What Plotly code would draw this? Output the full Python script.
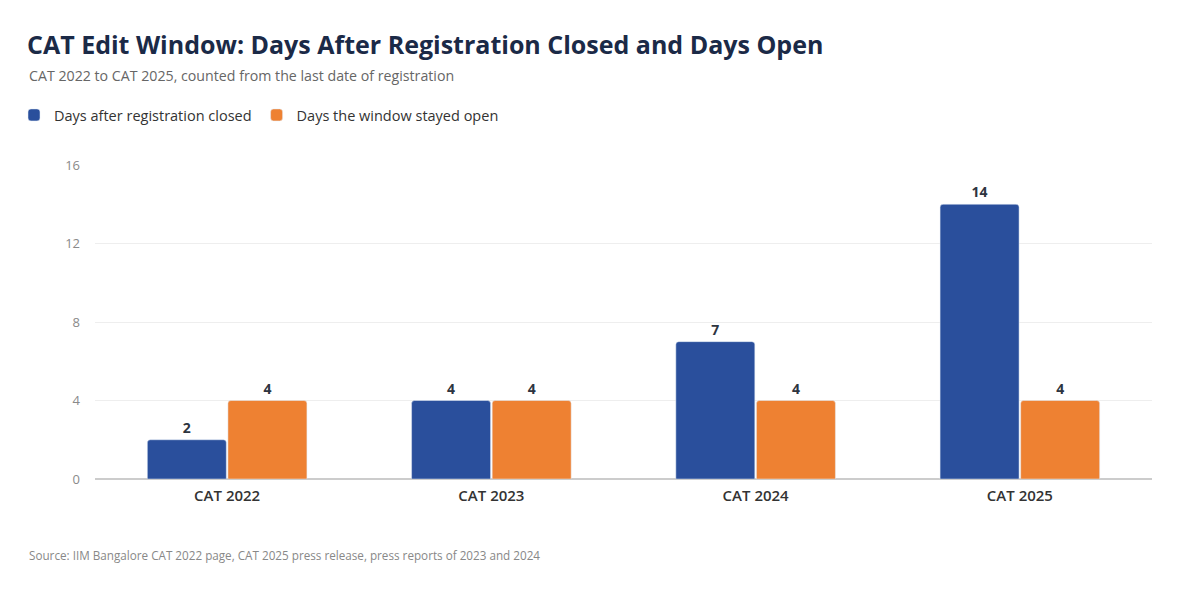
import plotly.graph_objects as go

# chart data
editions = ["CAT 2022", "CAT 2023", "CAT 2024", "CAT 2025"]
days_after_close = [2, 4, 7, 14]
days_open = [4, 4, 4, 4]
y_ticks = [0, 4, 8, 12, 16]

BLUE = "#2a4f9c"
ORANGE = "#ee8132"
FONT = "Open Sans"

# page body has an 8px margin, so positions are shifted back by that much
OFF = 8
W, H = 1200, 600
L, R, T, B = 95 - OFF, 48 + OFF, 165 - OFF, 121 + OFF
PH = H - T - B
PW = W - L - R

fig = go.Figure()
fig.add_trace(go.Bar(
    x=editions, y=days_after_close, name="Days after registration closed",
    marker=dict(color=BLUE, cornerradius=3),
    text=days_after_close, textposition="outside", cliponaxis=False,
    textfont=dict(family=FONT, size=14, color="#2d3440", weight="bold"),
))
fig.add_trace(go.Bar(
    x=editions, y=days_open, name="Days the window stayed open",
    marker=dict(color=ORANGE, cornerradius=3),
    text=days_open, textposition="outside", cliponaxis=False,
    textfont=dict(family=FONT, size=14, color="#2d3440", weight="bold"),
))

fig.update_layout(
    width=W, height=H,
    margin=dict(l=L, r=R, t=T, b=B),
    paper_bgcolor="white", plot_bgcolor="white",
    font=dict(family=FONT, color="#333"),
    barmode="group", bargap=0.39, bargroupgap=0.02,
    title=dict(
        text="<b>CAT Edit Window: Days After Registration Closed and Days Open</b>",
        x=(27 - OFF) / W, xanchor="left", xref="container",
        y=1 - (45 - OFF) / H, yanchor="middle", yref="container",
        font=dict(family=FONT, size=25, color="#1b2a47"),
    ),
    legend=dict(
        orientation="h", xref="container", yref="container",
        x=(14 - OFF) / W, xanchor="left", y=1 - (115 - OFF) / H, yanchor="middle",
        font=dict(family=FONT, size=14.5, color="#333"),
        itemwidth=30, traceorder="normal",
    ),
    showlegend=True,
)

fig.update_yaxes(
    range=[0, 16], tickvals=y_ticks, showgrid=True, gridcolor="#eeeeee",
    zeroline=True, zerolinecolor="#cccccc", zerolinewidth=1.5,
    tickfont=dict(family=FONT, size=13, color="#8a8a8a"), ticklabelstandoff=14,
    showline=False,
)
fig.update_xaxes(
    tickfont=dict(family=FONT, size=15, color="#333", weight=600),
    ticklabelstandoff=6, showline=False,
)

fig.add_annotation(
    text="CAT 2022 to CAT 2025, counted from the last date of registration",
    xref="paper", yref="paper", x=(27 - 95) / PW, xanchor="left",
    y=1 + (165 - 76) / PH, yanchor="middle", showarrow=False,
    font=dict(family=FONT, size=14.2, color="#666"),
)
fig.add_annotation(
    text="Source: IIM Bangalore CAT 2022 page, CAT 2025 press release, press reports of 2023 and 2024",
    xref="paper", yref="paper", x=(27 - 95) / PW, xanchor="left",
    y=-(555 - 479) / PH, yanchor="middle", showarrow=False,
    font=dict(family=FONT, size=11.7, color="#888"),
)

fig.write_html("out.html")
